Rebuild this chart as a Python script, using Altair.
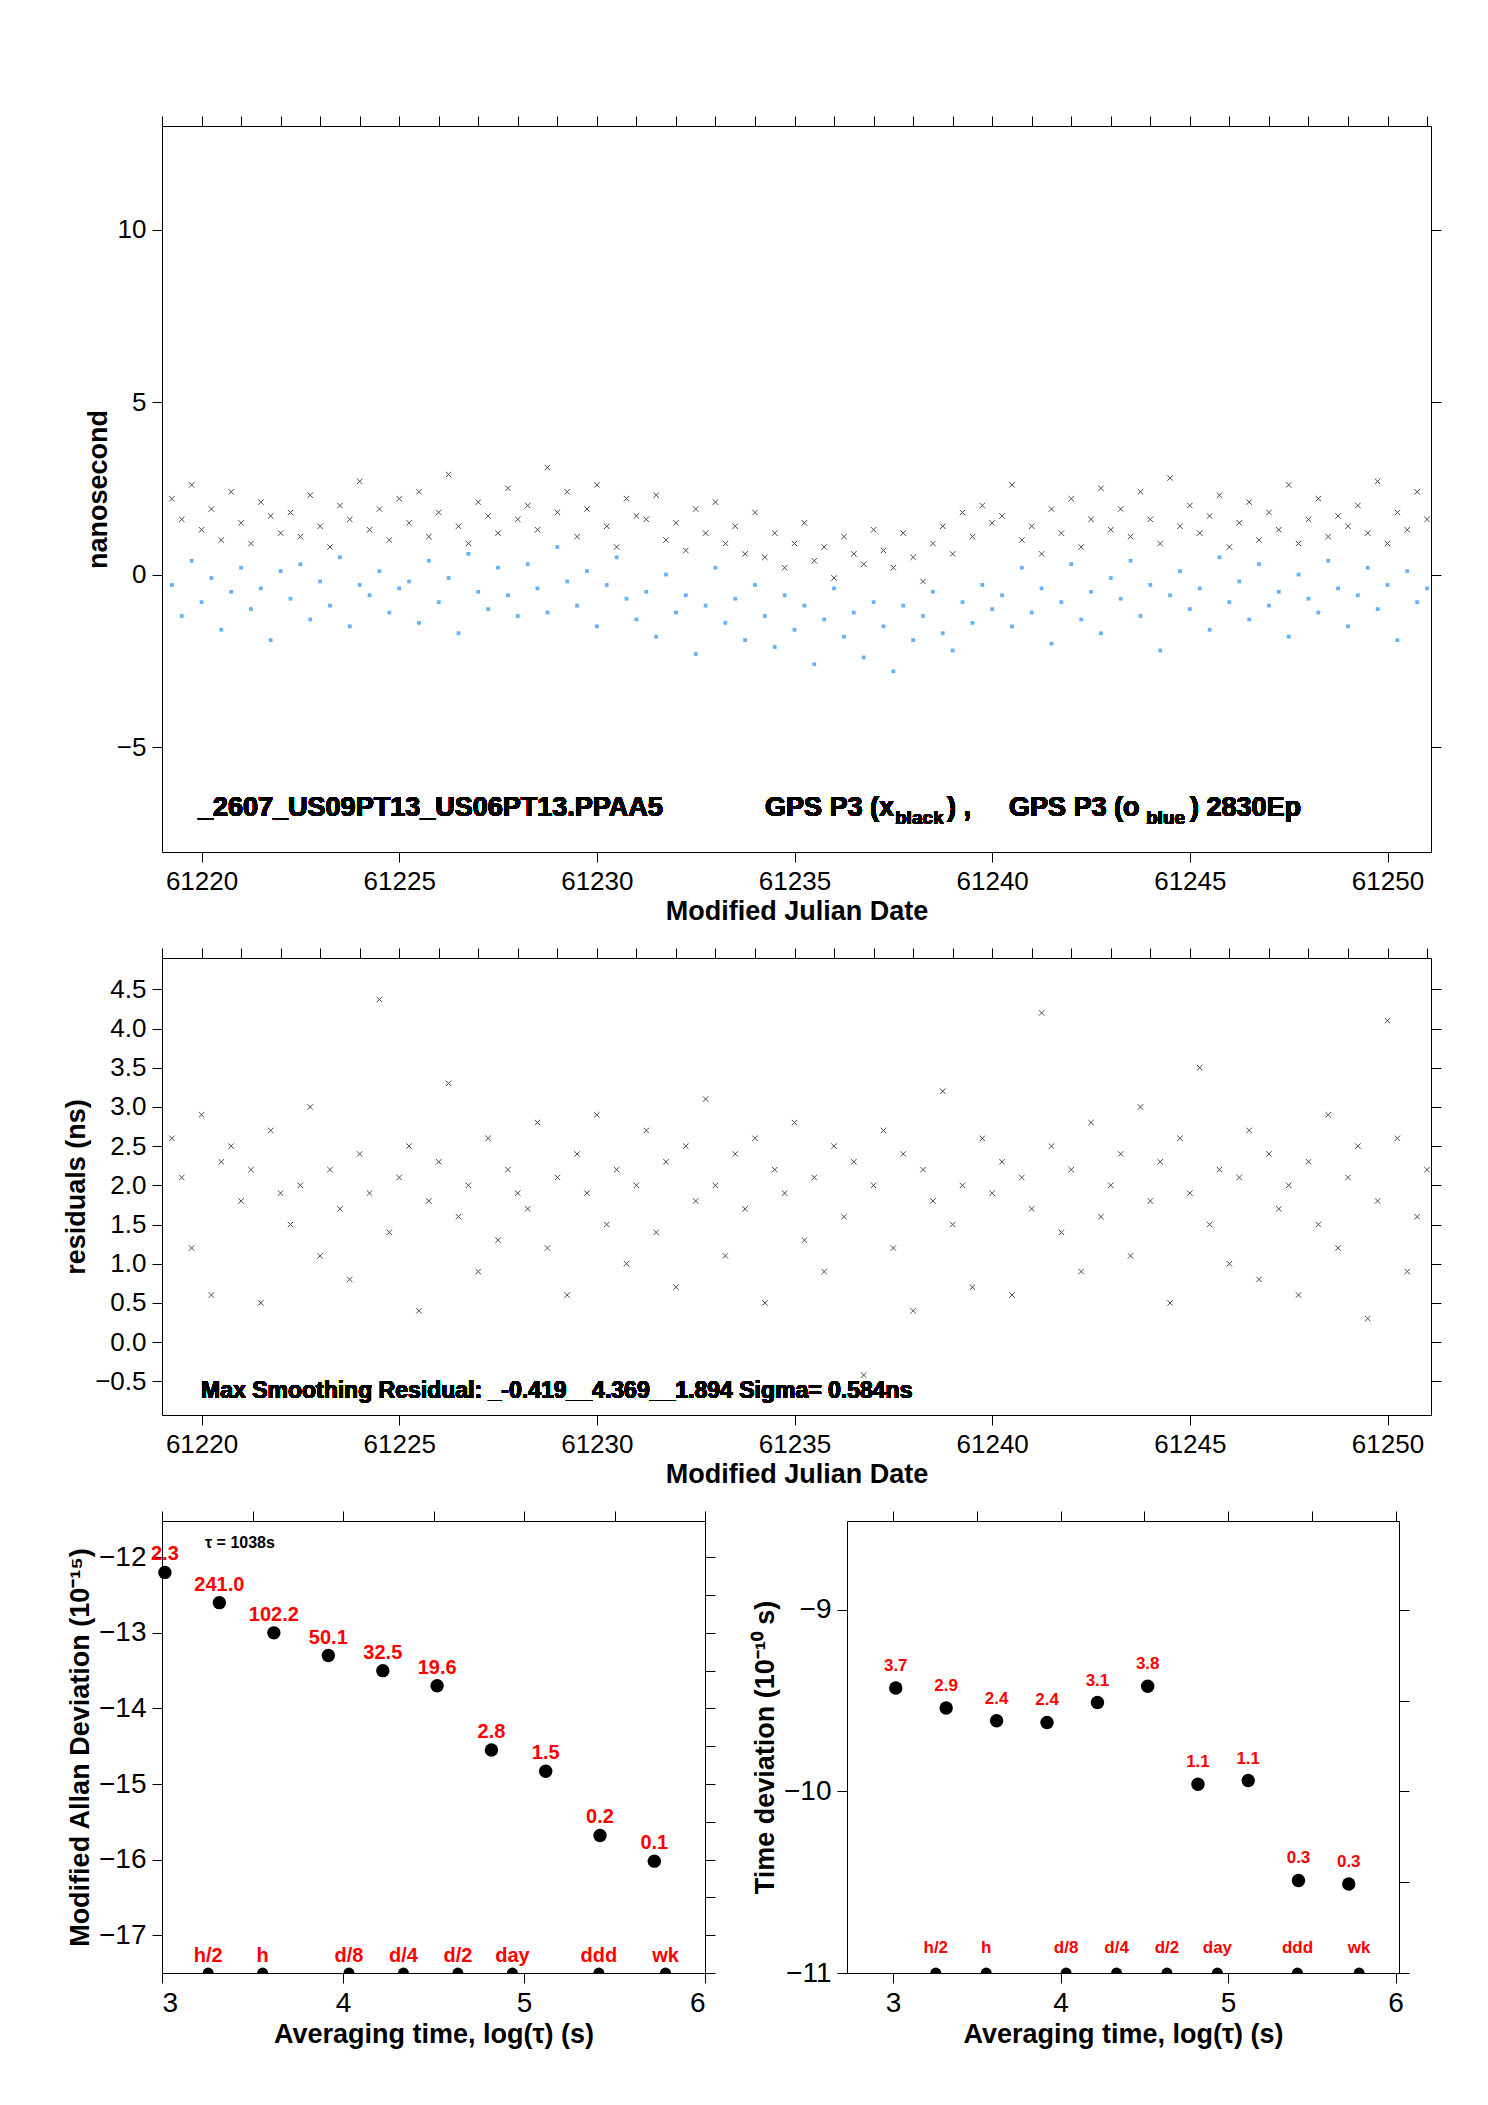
import altair as alt
import pandas as pd

FONT = "Liberation Sans"
mjd = [61219.25 + 0.25 * i for i in range(128)]
black = [2.2,1.6,2.6,1.3,1.9,1.0,2.4,1.5,0.9,2.1,1.7,1.2,
1.8,1.1,2.3,1.4,0.8,2.0,1.6,2.7,1.3,1.9,1.0,2.2,
1.5,2.4,1.1,1.8,2.9,1.4,0.9,2.1,1.7,1.2,2.5,1.6,
2.0,1.3,3.1,1.8,2.4,1.1,1.9,2.6,1.4,0.8,2.2,1.7,
1.6,2.3,1.0,1.5,0.7,1.9,1.2,2.1,0.9,1.4,0.6,1.8,
0.5,1.2,0.2,0.9,1.5,0.4,0.8,-0.1,1.1,0.6,0.3,1.3,
0.7,0.2,1.2,0.5,-0.2,0.9,1.4,0.6,1.8,1.1,2.0,1.5,
1.7,2.6,1.0,1.4,0.6,1.9,1.2,2.2,0.8,1.6,2.5,1.3,
1.9,1.1,2.4,1.6,0.9,2.8,1.4,2.0,1.2,1.7,2.3,0.8,
1.5,2.1,1.0,1.8,1.3,2.6,0.9,1.6,2.2,1.1,1.7,1.4,
2.0,1.2,2.7,0.9,1.8,1.3,2.4,1.6]
blue = [-0.3,-1.2,0.4,-0.8,-0.1,-1.6,-0.5,0.2,-1.0,-0.4,-1.9,0.1,
-0.7,0.3,-1.3,-0.2,-0.9,0.5,-1.5,-0.3,-0.6,0.1,-1.1,-0.4,
-0.2,-1.4,0.4,-0.8,-0.1,-1.7,0.6,-0.5,-1.0,0.2,-0.6,-1.2,
0.3,-0.4,-1.1,0.8,-0.2,-0.9,0.1,-1.5,-0.3,0.5,-0.7,-1.3,
-0.5,-1.8,0.0,-1.1,-0.6,-2.3,-0.9,0.2,-1.4,-0.7,-1.9,-0.3,
-1.2,-2.1,-0.6,-1.6,-0.9,-2.6,-1.3,-0.4,-1.8,-1.1,-2.4,-0.8,
-1.5,-2.8,-0.9,-1.9,-1.2,-0.5,-1.7,-2.2,-0.8,-1.4,-0.3,-1.0,
-0.6,-1.5,0.2,-1.1,-0.4,-2.0,-0.8,0.3,-1.3,-0.5,-1.7,-0.1,
-0.7,0.4,-1.2,-0.3,-2.2,-0.6,0.1,-1.0,-0.4,-1.6,0.5,-0.8,
-0.2,-1.3,0.3,-0.9,-0.5,-1.8,0.0,-0.7,-1.1,0.4,-0.4,-1.5,
-0.6,0.2,-1.0,-0.3,-1.9,0.1,-0.8,-0.4]
resid = [2.6,2.1,1.2,2.9,0.6,2.3,2.5,1.8,2.2,0.5,2.7,1.9,
1.5,2.0,3.0,1.1,2.2,1.7,0.8,2.4,1.9,4.37,1.4,2.1,
2.5,0.4,1.8,2.3,3.3,1.6,2.0,0.9,2.6,1.3,2.2,1.9,
1.7,2.8,1.2,2.1,0.6,2.4,1.9,2.9,1.5,2.2,1.0,2.0,
2.7,1.4,2.3,0.7,2.5,1.8,3.1,2.0,1.1,2.4,1.7,2.6,
0.5,2.2,1.9,2.8,1.3,2.1,0.9,2.5,1.6,2.3,-0.42,2.0,
2.7,1.2,2.4,0.4,2.2,1.8,3.2,1.5,2.0,0.7,2.6,1.9,
2.3,0.6,2.1,1.7,4.2,2.5,1.4,2.2,0.9,2.8,1.6,2.0,
2.4,1.1,3.0,1.8,2.3,0.5,2.6,1.9,3.5,1.5,2.2,1.0,
2.1,2.7,0.8,2.4,1.7,2.0,0.6,2.3,1.5,2.9,1.2,2.1,
2.5,0.3,1.8,4.1,2.6,0.9,1.6,2.2]

logtau = [3.016,3.317,3.618,3.919,4.22,4.52,4.82,5.12,5.42,5.72]
madev = [-12.2,-12.6,-13.0,-13.3,-13.5,-13.7,-14.55,-14.83,-15.68,-16.02]
madev_lbl = ["2.3","241.0","102.2","50.1","32.5","19.6","2.8","1.5","0.2","0.1"]
tdev = [-9.43,-9.54,-9.61,-9.62,-9.51,-9.42,-9.96,-9.94,-10.49,-10.51]
tdev_lbl = ["3.7","2.9","2.4","2.4","3.1","3.8","1.1","1.1","0.3","0.3"]
mark_x = [3.255,3.556,4.033,4.334,4.635,4.936,5.414,5.782]
mark_lbl = ["h/2","h","d/8","d/4","d/2","day","ddd","wk"]

xshape = "M-1,-1L1,1M-1,1L1,-1"

def ax(orient, values, title="", labels=True, size=26, tick=10, tfs=27, fmt=None):
    kw = dict(orient=orient, values=values, labels=labels, tickSize=tick, tickColor="black",
              domainColor="black", labelFont=FONT, labelFontSize=size, labelColor="black",
              grid=False, titleFont=FONT, titleFontSize=tfs, titleFontWeight="bold",
              titleColor="black", labelPadding=6, title=title, offset=0)
    if fmt:
        kw["format"] = fmt
    return alt.Axis(**kw)

def frame(df, xf, yf, xs, ys, xticks, yticks):
    return alt.Chart(df).mark_point(opacity=0).encode(
        x=alt.X(xf, scale=xs, axis=ax("top", xticks, labels=False)),
        y=alt.Y(yf, scale=ys, axis=ax("right", yticks, labels=False)))

mjd_ticks = [61220,61225,61230,61235,61240,61245,61250]
days = list(range(61219, 61252))
xs = alt.Scale(domain=[61219.0, 61251.1], nice=False, zero=False)

# top panel
dtop = pd.DataFrame({"mjd": mjd, "black": black, "blue": blue})
ys = alt.Scale(domain=[-8.04, 13.0], nice=False, zero=False)
b1 = alt.Chart(dtop).mark_point(shape=xshape, filled=False, color="black", size=30, strokeWidth=1).encode(
    x=alt.X("mjd:Q", scale=xs, axis=ax("bottom", mjd_ticks, "Modified Julian Date", fmt="d")),
    y=alt.Y("black:Q", scale=ys, axis=ax("left", [-5,0,5,10], "nanosecond")))
b2 = alt.Chart(dtop).mark_square(color="#1e90ff", size=14).encode(
    x=alt.X("mjd:Q", axis=None), y=alt.Y("blue:Q", axis=None))
f1 = frame(dtop, "mjd:Q", "black:Q", xs, ys, days, [-5,0,5,10])
def txt(s, x, y, size=27):
    return alt.Chart(dtop).mark_text(text=s, font=FONT, fontSize=size, fontWeight="bold",
                                     align="left", baseline="alphabetic", color="black").encode(
        x=alt.value(x), y=alt.value(y))
tt = [txt("_2607_US09PT13_US06PT13.PPAA5", 36, 690), txt("GPS P3 (x", 603, 690),
      txt("black", 733, 698, 19), txt(") ,", 785, 690), txt("GPS P3 (o", 847, 690),
      txt("blue", 984, 698, 19), txt(")  2830Ep", 1028, 690)]
top = alt.layer(b1, b2, f1, *tt).resolve_axis(x="independent", y="independent").properties(width=1269, height=726)

# middle panel
dmid = pd.DataFrame({"mjd": mjd, "resid": resid})
ys2 = alt.Scale(domain=[-0.93, 4.9], nice=False, zero=False)
rt = [-0.5,0,0.5,1,1.5,2,2.5,3,3.5,4,4.5]
m1 = alt.Chart(dmid).mark_point(shape=xshape, filled=False, color="black", size=30, strokeWidth=1).encode(
    x=alt.X("mjd:Q", scale=xs, axis=ax("bottom", mjd_ticks, "Modified Julian Date", fmt="d")),
    y=alt.Y("resid:Q", scale=ys2, axis=ax("left", rt, "residuals (ns)", fmt=".1f")))
mf = frame(dmid, "mjd:Q", "resid:Q", xs, ys2, days, rt)
mt = alt.Chart(dmid).mark_text(text="Max Smoothing Residual: _-0.419__4.369__1.894  Sigma= 0.584ns",
                               font=FONT, fontSize=23, fontWeight="bold", align="left", color="black").encode(
    x=alt.value(39), y=alt.value(433))
mid = alt.layer(m1, mf, mt).resolve_axis(x="independent", y="independent").properties(width=1269, height=457)

def stab(vals, lbls, ydom, yt, ytitle, xdom, lbl_dy, lblsize, mark_y, bottom_y, minor):
    d = pd.DataFrame({"lt": logtau, "v": vals, "lbl": lbls})
    dm = pd.DataFrame({"lt": mark_x, "v": [bottom_y] * len(mark_x), "lbl": mark_lbl, "ly": [mark_y] * len(mark_x)})
    sx = alt.Scale(domain=xdom, nice=False, zero=False)
    sy = alt.Scale(domain=ydom, nice=False, zero=False)
    pts = alt.Chart(d).mark_circle(color="black", size=180, opacity=1).encode(
        x=alt.X("lt:Q", scale=sx, axis=ax("bottom", [3,4,5,6], "Averaging time, log(τ) (s)", size=28)),
        y=alt.Y("v:Q", scale=sy, axis=ax("left", yt, ytitle, size=28)))
    lab = alt.Chart(d).mark_text(color="red", font=FONT, fontSize=lblsize, fontWeight="bold", dy=lbl_dy).encode(
        x=alt.X("lt:Q", axis=None), y=alt.Y("v:Q", axis=None), text="lbl:N")
    mk = alt.Chart(dm).mark_circle(color="black", size=120, opacity=1, clip=True).encode(
        x=alt.X("lt:Q", axis=None), y=alt.Y("v:Q", axis=None))
    mkl = alt.Chart(dm).mark_text(color="red", font=FONT, fontSize=lblsize, fontWeight="bold").encode(
        x=alt.X("lt:Q", axis=None), y=alt.Y("ly:Q", axis=None), text="lbl:N")
    fr = alt.Chart(d).mark_point(opacity=0).encode(
        x=alt.X("lt:Q", scale=sx, axis=ax("top", [3,3.5,4,4.5,5,5.5,6], labels=False)),
        y=alt.Y("v:Q", scale=sy, axis=ax("right", minor, labels=False)))
    return [pts, lab, mk, mkl, fr]

p = stab(madev, madev_lbl, [-17.5, -11.52], [-17,-16,-15,-14,-13,-12], "Modified Allan Deviation (10⁻¹⁵)",
         [3, 6], -18, 20, -17.27, -17.5, [-17.5,-17,-16.5,-16,-15.5,-15,-14.5,-14,-13.5,-13,-12.5,-12])
tau = alt.Chart(pd.DataFrame({"a": [0]})).mark_text(text="τ = 1038s", font=FONT, fontSize=16, fontWeight="bold",
                                                    color="black", align="left").encode(x=alt.value(43), y=alt.value(22))
left = alt.layer(*p, tau).resolve_axis(x="independent", y="independent").properties(width=543, height=452)
q = stab(tdev, tdev_lbl, [-11, -8.51], [-11,-10,-9], "Time deviation (10⁻¹⁰ s)",
         [2.725, 6.02], -22, 17, -10.86, -11, [-11,-10.5,-10,-9.5,-9])
right = alt.layer(*q).resolve_axis(x="independent", y="independent").properties(width=552, height=452)

bottom = alt.hconcat(left, right, spacing=142, bounds="flush")
chart = alt.vconcat(top, mid, bottom, spacing=106, bounds="flush").properties(
    padding={"top": 107, "left": 54, "right": 20, "bottom": 20}).configure_view(
    stroke="black", strokeWidth=1).configure(background="white")
chart.save("out.html", embed_options={"renderer": "svg", "actions": False})
